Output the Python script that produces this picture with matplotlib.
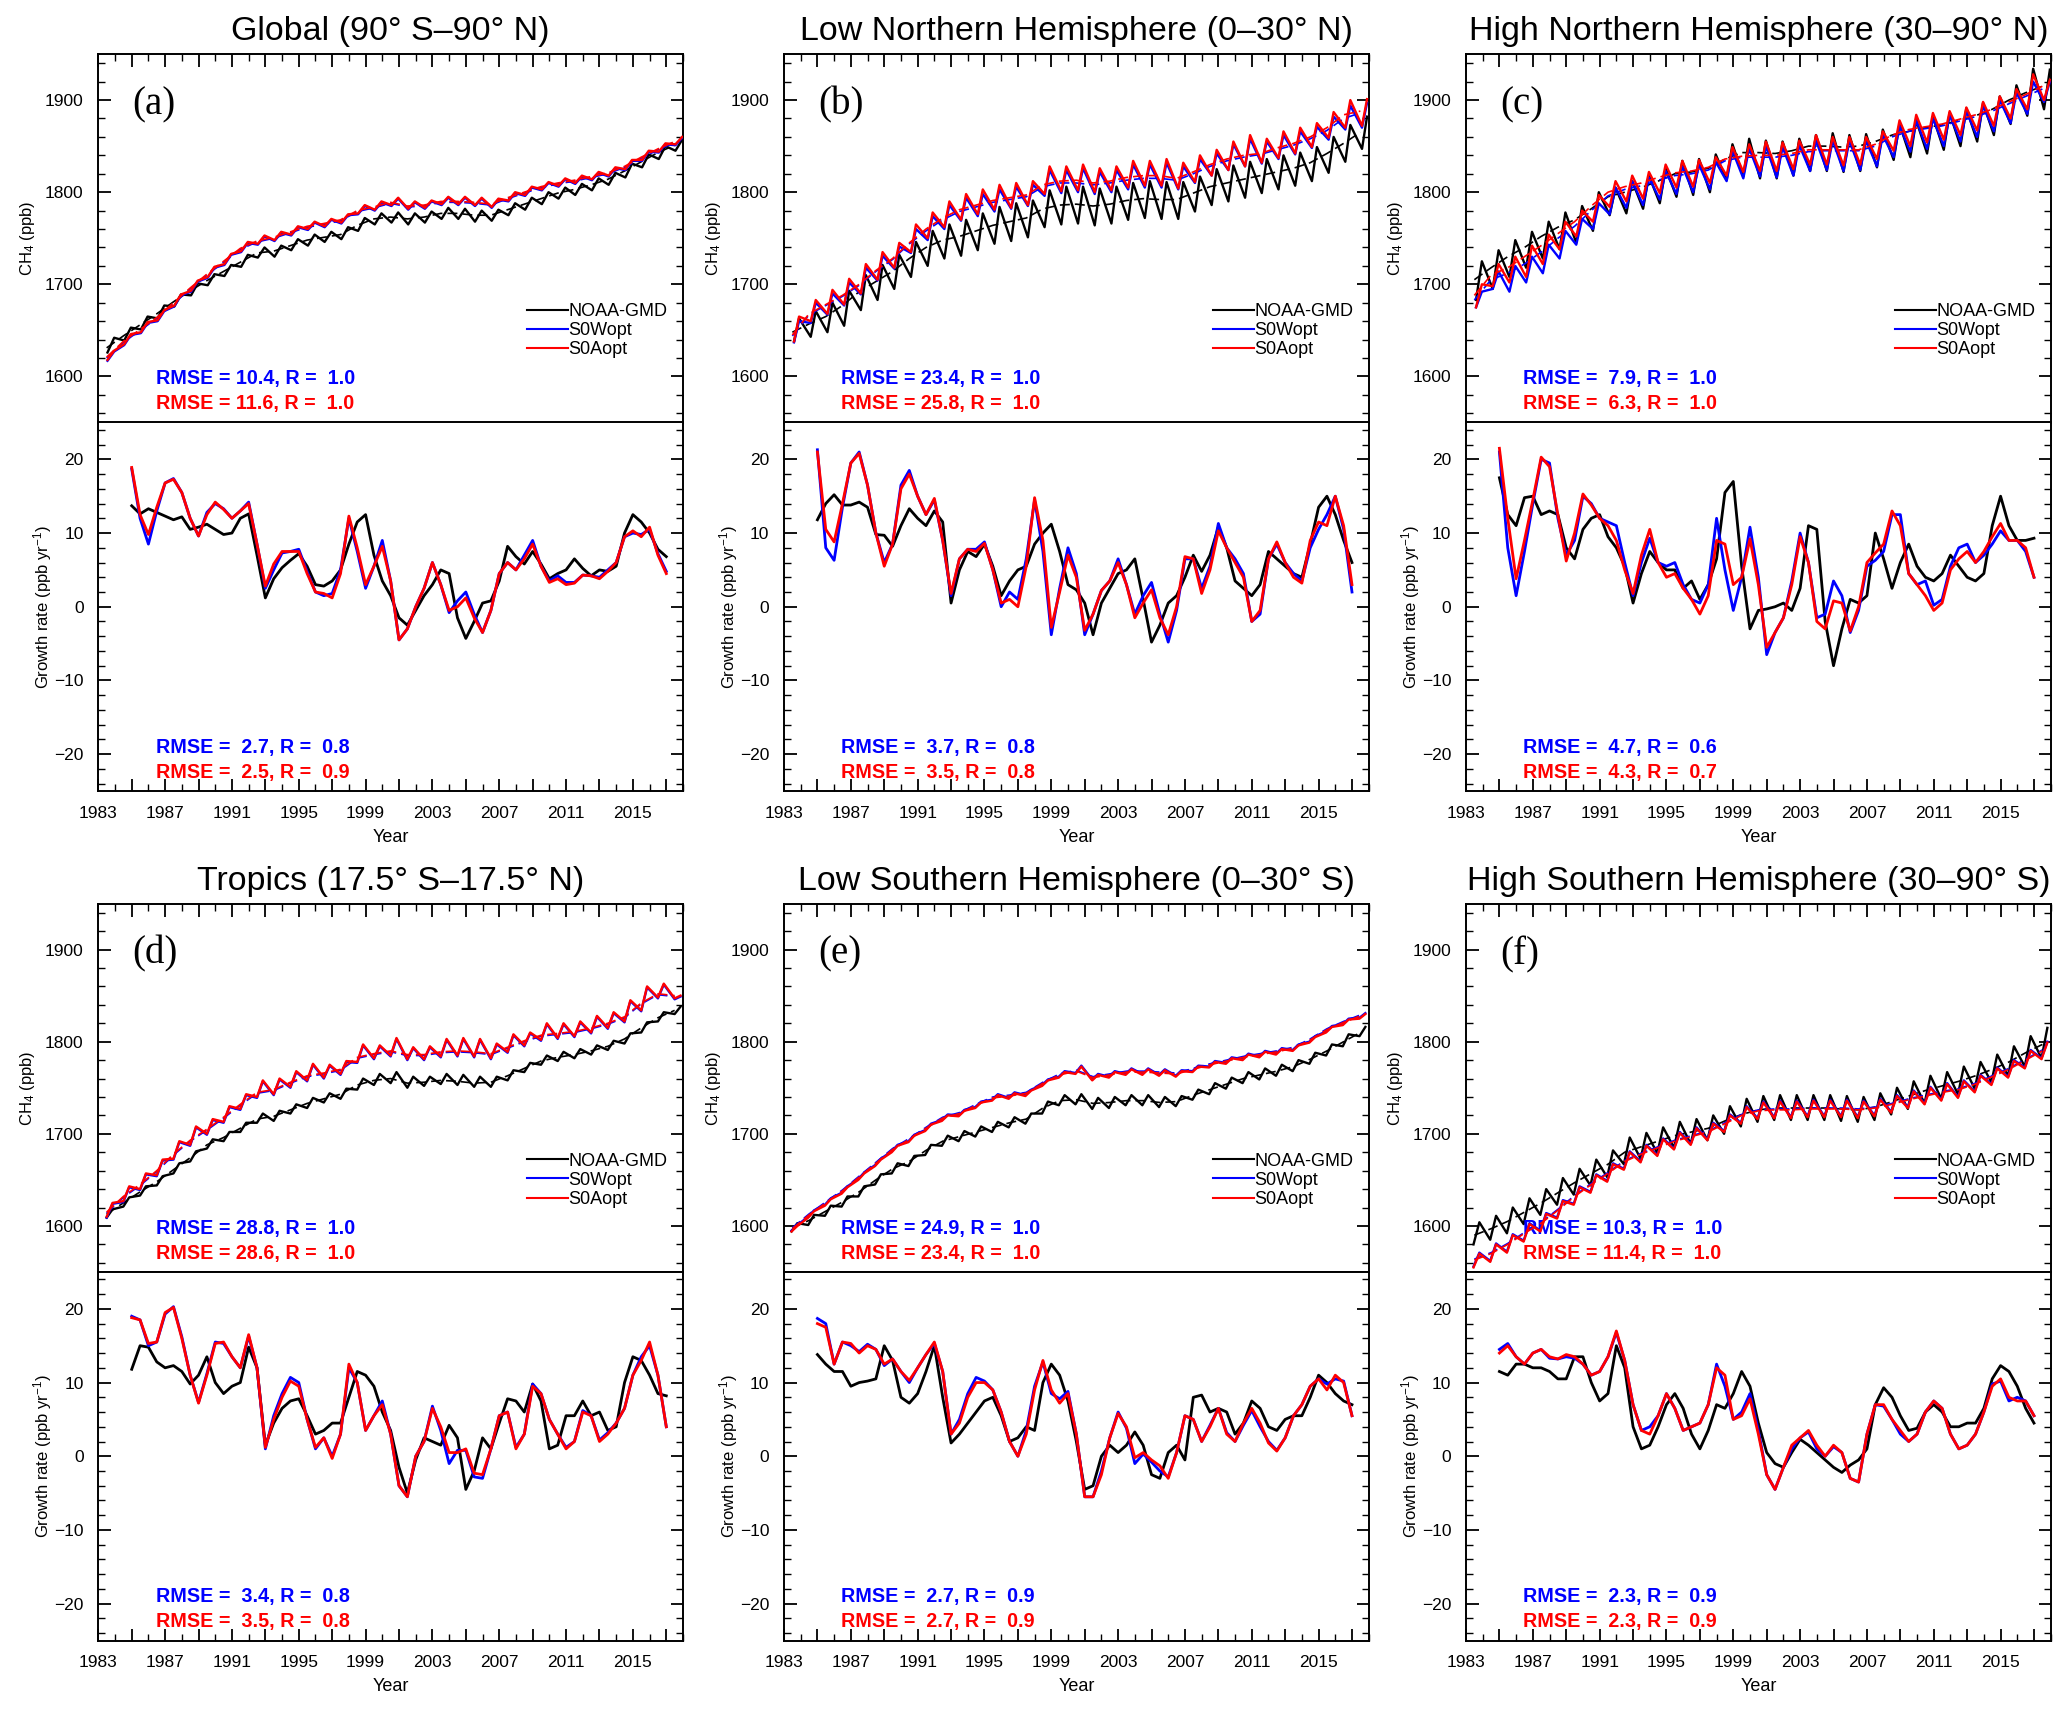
import numpy as np
import matplotlib
matplotlib.use("Agg")
import matplotlib.pyplot as plt

plt.rcParams['font.family'] = ['Liberation Sans', 'DejaVu Sans']
plt.rcParams['mathtext.fontset'] = 'custom'
plt.rcParams['mathtext.rm'] = 'Liberation Sans'
plt.rcParams['mathtext.it'] = 'Liberation Sans:italic'

# ---------------- data ----------------
YEARS = np.arange(1983, 2018)                 # one seasonal max / min per year
GR_YEARS = np.arange(1985.0, 2017.01, 0.5)    # growth-rate sampling times

TITLES = ["Global (90\u00b0 S\u201390\u00b0 N)", "Low Northern Hemisphere (0\u201330\u00b0 N)",
          "High Northern Hemisphere (30\u201390\u00b0 N)", "Tropics (17.5\u00b0 S\u201317.5\u00b0 N)",
          "Low Southern Hemisphere (0\u201330\u00b0 S)", "High Southern Hemisphere (30\u201390\u00b0 S)"]
PANEL_TAGS = ["(a)", "(b)", "(c)", "(d)", "(e)", "(f)"]
SERIES_NAMES = ["NOAA-GMD", "S0Wopt", "S0Aopt"]

# fraction of the year at which seasonal minimum / maximum are read
PHASE_LO = [0.55, 0.60, 0.60, 0.50, 0.45, 0.45]
PHASE_HI = [0.95, 0.90, 0.95, 0.85, 0.80, 0.80]

RMSE_CONC_W = [10.4, 23.4, 7.9, 28.8, 24.9, 10.3]
R_CONC_W = [1.0, 1.0, 1.0, 1.0, 1.0, 1.0]
RMSE_CONC_A = [11.6, 25.8, 6.3, 28.6, 23.4, 11.4]
R_CONC_A = [1.0, 1.0, 1.0, 1.0, 1.0, 1.0]
RMSE_GR_W = [2.7, 3.7, 4.7, 3.4, 2.7, 2.3]
R_GR_W = [0.8, 0.8, 0.6, 0.8, 0.9, 0.9]
RMSE_GR_A = [2.5, 3.5, 4.3, 3.5, 2.7, 2.3]
R_GR_A = [0.9, 0.8, 0.7, 0.8, 0.9, 0.9]

# ---- (a) Global ----
glob_obs_trend = [1631, 1644, 1656, 1668, 1681, 1693, 1704, 1714, 1724, 1734, 1736, 1742, 1748, 1751, 1754, 1764, 1771, 1773, 1771, 1773, 1777, 1777, 1775, 1775, 1781, 1787, 1793, 1799, 1803, 1808, 1814, 1823, 1833, 1843, 1851]
glob_w_trend = [1620, 1637, 1650, 1663, 1679, 1695, 1710, 1724, 1738, 1746, 1750, 1756, 1762, 1765, 1769, 1779, 1783, 1788, 1784, 1785, 1789, 1789, 1788, 1786, 1793, 1799, 1805, 1809, 1812, 1816, 1820, 1827, 1837, 1846, 1854]
glob_a_trend = [1621, 1638, 1651, 1664, 1680, 1696, 1711, 1725, 1739, 1747, 1751, 1757, 1763, 1766, 1770, 1780, 1784, 1789, 1785, 1786, 1790, 1790, 1789, 1787, 1794, 1800, 1806, 1810, 1813, 1817, 1821, 1828, 1838, 1847, 1855]
glob_obs_hi = [1642, 1653, 1665, 1677, 1689, 1701, 1711, 1721, 1732, 1740, 1742, 1749, 1754, 1757, 1762, 1772, 1777, 1778, 1777, 1779, 1783, 1782, 1780, 1781, 1788, 1794, 1800, 1805, 1809, 1815, 1821, 1831, 1841, 1850, 1857]
glob_obs_lo = [1626, 1639, 1651, 1663, 1676, 1688, 1699, 1709, 1719, 1729, 1730, 1737, 1742, 1746, 1749, 1758, 1765, 1767, 1765, 1767, 1771, 1771, 1768, 1769, 1775, 1781, 1787, 1793, 1797, 1802, 1808, 1816, 1827, 1836, 1845]
glob_w_hi = [1627, 1645, 1658, 1671, 1688, 1703, 1718, 1732, 1745, 1752, 1756, 1762, 1767, 1770, 1775, 1785, 1789, 1793, 1789, 1790, 1794, 1794, 1793, 1792, 1799, 1805, 1810, 1814, 1817, 1821, 1826, 1834, 1844, 1852, 1859]
glob_w_lo = [1617, 1634, 1647, 1660, 1676, 1692, 1707, 1721, 1735, 1743, 1747, 1753, 1759, 1762, 1766, 1776, 1780, 1785, 1781, 1782, 1786, 1786, 1785, 1783, 1790, 1796, 1802, 1806, 1809, 1813, 1817, 1824, 1834, 1843, 1851]
glob_a_hi = [1628, 1646, 1659, 1672, 1689, 1704, 1719, 1733, 1746, 1753, 1757, 1763, 1768, 1771, 1776, 1786, 1790, 1794, 1790, 1791, 1795, 1795, 1794, 1793, 1800, 1806, 1811, 1815, 1818, 1822, 1827, 1835, 1845, 1853, 1860]
glob_a_lo = [1618, 1635, 1648, 1661, 1677, 1693, 1708, 1722, 1736, 1744, 1748, 1754, 1760, 1763, 1767, 1777, 1781, 1786, 1782, 1783, 1787, 1787, 1786, 1784, 1791, 1797, 1803, 1807, 1810, 1814, 1818, 1825, 1835, 1844, 1852]
glob_obs_gr = [13.7, 12.6, 13.3, 12.8, 12.3, 11.8, 12.2, 10.5, 10.8, 11.2, 10.5, 9.8, 10.0, 12.0, 12.6, 7.0, 1.2, 3.8, 5.3, 6.3, 7.2, 5.5, 3.0, 2.8, 3.5, 5.0, 8.5, 11.5, 12.5, 7.0, 3.5, 1.5, -1.5, -2.5, -0.5, 1.5, 3.0, 5.0, 4.5, -1.5, -4.3, -2.0, 0.5, 0.8, 3.5, 8.2, 6.8, 5.8, 7.5, 5.8, 3.8, 4.5, 5.0, 6.5, 5.2, 4.2, 5.0, 4.8, 5.5, 10.0, 12.5, 11.5, 10.0, 7.8, 6.8]
glob_w_gr = [18.7, 12.0, 8.5, 13.0, 16.8, 17.4, 15.5, 12.0, 9.6, 12.8, 14.0, 13.3, 12.0, 13.0, 14.2, 8.5, 2.5, 5.0, 7.3, 7.5, 7.8, 4.8, 2.0, 1.5, 1.8, 5.0, 12.0, 7.5, 2.5, 5.5, 9.0, 3.5, -4.5, -3.0, 0.0, 2.5, 6.0, 3.0, -0.8, 0.8, 2.0, -1.0, -3.5, -0.5, 4.5, 6.0, 5.0, 7.0, 9.0, 5.5, 3.5, 4.2, 3.3, 3.3, 4.3, 4.2, 4.0, 5.0, 6.0, 9.5, 10.0, 9.8, 10.5, 7.2, 4.8]
glob_a_gr = [18.9, 12.5, 9.8, 13.5, 16.8, 17.3, 15.5, 12.0, 9.6, 12.5, 14.2, 13.2, 12.0, 13.0, 14.0, 8.5, 2.8, 5.8, 7.5, 7.5, 7.5, 4.5, 2.0, 1.8, 1.2, 4.5, 12.3, 8.0, 3.0, 5.5, 8.2, 3.5, -4.5, -3.0, 0.0, 2.5, 6.0, 3.0, -0.5, 0.0, 1.2, -1.5, -3.5, -0.5, 4.5, 6.0, 5.0, 6.5, 8.5, 5.5, 3.3, 3.8, 3.0, 3.2, 4.3, 4.2, 3.8, 4.8, 6.0, 9.5, 10.3, 9.5, 10.8, 7.0, 4.5]

# ---- (b) Low NH ----
lnh_obs_trend = [1648, 1657, 1665, 1677, 1692, 1703, 1714, 1728, 1740, 1748, 1752, 1758, 1764, 1768, 1772, 1782, 1786, 1787, 1785, 1787, 1791, 1793, 1792, 1792, 1799, 1806, 1810, 1814, 1818, 1822, 1826, 1832, 1842, 1853, 1865]
lnh_w_trend = [1644, 1667, 1677, 1687, 1699, 1714, 1727, 1744, 1758, 1770, 1779, 1784, 1789, 1792, 1795, 1806, 1810, 1810, 1808, 1810, 1813, 1815, 1815, 1813, 1820, 1828, 1834, 1838, 1841, 1846, 1851, 1858, 1867, 1880, 1886]
lnh_a_trend = [1645, 1668, 1678, 1688, 1700, 1715, 1728, 1745, 1760, 1772, 1781, 1786, 1791, 1794, 1797, 1808, 1812, 1813, 1810, 1812, 1816, 1818, 1818, 1815, 1822, 1830, 1836, 1840, 1842, 1848, 1853, 1860, 1870, 1884, 1888]
lnh_obs_hi = [1663, 1671, 1680, 1693, 1710, 1721, 1732, 1746, 1758, 1765, 1770, 1777, 1784, 1788, 1791, 1802, 1806, 1806, 1804, 1806, 1810, 1812, 1811, 1811, 1817, 1825, 1829, 1833, 1836, 1840, 1843, 1849, 1860, 1873, 1882]
lnh_obs_lo = [1638, 1643, 1648, 1655, 1672, 1683, 1695, 1708, 1720, 1728, 1731, 1737, 1744, 1747, 1751, 1762, 1765, 1766, 1764, 1766, 1770, 1772, 1771, 1771, 1779, 1786, 1790, 1794, 1799, 1803, 1807, 1812, 1821, 1833, 1847]
lnh_w_hi = [1660, 1680, 1690, 1702, 1718, 1731, 1741, 1760, 1774, 1786, 1794, 1798, 1803, 1806, 1808, 1824, 1824, 1826, 1822, 1824, 1830, 1830, 1832, 1828, 1836, 1842, 1852, 1858, 1855, 1862, 1866, 1871, 1882, 1894, 1897]
lnh_w_lo = [1637, 1658, 1667, 1677, 1689, 1704, 1717, 1734, 1748, 1760, 1769, 1774, 1779, 1782, 1785, 1796, 1799, 1800, 1798, 1800, 1803, 1805, 1805, 1803, 1810, 1818, 1824, 1828, 1831, 1836, 1841, 1848, 1857, 1868, 1870]
lnh_a_hi = [1665, 1683, 1694, 1706, 1722, 1735, 1745, 1765, 1778, 1790, 1798, 1803, 1808, 1810, 1812, 1828, 1828, 1830, 1826, 1828, 1834, 1834, 1836, 1832, 1840, 1846, 1855, 1862, 1858, 1866, 1870, 1875, 1887, 1900, 1901]
lnh_a_lo = [1638, 1660, 1668, 1678, 1690, 1705, 1718, 1735, 1750, 1762, 1770, 1776, 1781, 1783, 1786, 1798, 1801, 1802, 1800, 1802, 1805, 1807, 1807, 1804, 1811, 1818, 1824, 1828, 1832, 1837, 1842, 1849, 1859, 1870, 1872]
lnh_obs_gr = [11.8, 14.0, 15.2, 13.8, 13.8, 14.2, 13.5, 9.8, 9.7, 8.2, 11.0, 13.3, 12.0, 11.0, 13.0, 11.5, 0.5, 5.0, 7.5, 6.8, 8.5, 5.5, 1.5, 3.5, 5.0, 5.5, 8.5, 10.0, 11.2, 7.5, 3.0, 2.3, 0.5, -3.8, 0.5, 2.5, 4.5, 5.0, 6.5, 1.0, -4.8, -2.5, 0.5, 1.5, 4.0, 7.0, 4.8, 7.0, 10.8, 8.0, 3.5, 2.5, 1.5, 3.0, 7.5, 6.5, 5.5, 4.5, 4.0, 8.5, 13.5, 15.0, 12.5, 9.0, 6.0]
lnh_w_gr = [21.3, 8.0, 6.3, 13.5, 19.5, 21.0, 16.5, 10.0, 6.0, 8.5, 16.5, 18.5, 15.0, 12.5, 14.5, 9.0, 1.5, 6.5, 7.8, 7.8, 8.8, 5.0, 0.0, 2.0, 1.0, 6.5, 14.5, 7.5, -3.8, 2.5, 8.0, 4.5, -3.8, -1.0, 2.2, 3.5, 6.5, 3.0, -1.0, 1.5, 3.3, -1.0, -4.8, -0.5, 6.5, 6.5, 2.5, 5.5, 11.3, 8.0, 6.5, 4.5, -2.0, -1.0, 6.5, 8.5, 6.0, 4.5, 3.5, 8.0, 10.5, 12.5, 15.0, 10.5, 2.0]
lnh_a_gr = [21.0, 10.5, 8.8, 14.0, 19.5, 20.8, 16.5, 10.0, 5.5, 8.5, 16.0, 18.0, 15.0, 12.5, 14.7, 9.0, 1.8, 6.5, 7.8, 7.5, 8.6, 5.0, 0.5, 1.0, 0.0, 5.5, 14.8, 9.0, -2.8, 2.0, 7.0, 4.0, -3.2, -1.0, 2.2, 3.5, 6.0, 3.0, -1.5, 0.5, 2.3, -1.5, -3.8, 0.0, 6.8, 6.5, 1.8, 5.0, 10.3, 8.0, 6.0, 4.0, -2.0, -0.5, 6.5, 8.8, 6.0, 4.0, 3.2, 9.0, 11.5, 11.0, 15.0, 11.0, 3.0]

# ---- (c) High NH ----
hnh_obs_trend = [1705, 1718, 1730, 1740, 1752, 1762, 1770, 1782, 1795, 1800, 1805, 1812, 1820, 1822, 1826, 1836, 1843, 1843, 1842, 1845, 1850, 1850, 1849, 1850, 1855, 1862, 1866, 1870, 1873, 1878, 1883, 1890, 1900, 1908, 1915]
hnh_w_trend = [1683, 1705, 1712, 1722, 1735, 1750, 1763, 1780, 1796, 1803, 1807, 1813, 1818, 1820, 1824, 1834, 1838, 1838, 1838, 1840, 1844, 1845, 1845, 1845, 1850, 1860, 1866, 1869, 1872, 1877, 1882, 1888, 1896, 1904, 1912]
hnh_a_trend = [1688, 1710, 1718, 1730, 1742, 1755, 1768, 1785, 1800, 1806, 1810, 1816, 1821, 1823, 1827, 1836, 1839, 1840, 1840, 1842, 1846, 1846, 1846, 1846, 1852, 1862, 1868, 1871, 1874, 1879, 1884, 1890, 1898, 1906, 1915]
hnh_obs_hi = [1725, 1737, 1748, 1757, 1768, 1778, 1785, 1800, 1805, 1812, 1818, 1826, 1834, 1836, 1841, 1852, 1858, 1856, 1855, 1858, 1862, 1864, 1862, 1863, 1868, 1874, 1878, 1882, 1886, 1891, 1897, 1904, 1916, 1934, 1933]
hnh_obs_lo = [1683, 1695, 1708, 1718, 1728, 1738, 1745, 1758, 1775, 1777, 1782, 1788, 1795, 1797, 1800, 1813, 1817, 1815, 1815, 1818, 1823, 1823, 1822, 1823, 1827, 1835, 1838, 1842, 1846, 1850, 1855, 1862, 1874, 1883, 1890]
hnh_w_hi = [1692, 1714, 1720, 1730, 1743, 1758, 1771, 1788, 1805, 1812, 1816, 1823, 1828, 1830, 1833, 1845, 1848, 1850, 1849, 1851, 1856, 1856, 1856, 1856, 1862, 1872, 1878, 1880, 1884, 1888, 1894, 1900, 1908, 1920, 1920]
hnh_w_lo = [1675, 1695, 1692, 1702, 1712, 1728, 1743, 1760, 1776, 1783, 1786, 1792, 1798, 1800, 1803, 1812, 1815, 1817, 1816, 1818, 1823, 1824, 1823, 1824, 1828, 1838, 1844, 1847, 1850, 1855, 1860, 1866, 1875, 1885, 1898]
hnh_a_hi = [1700, 1722, 1730, 1742, 1754, 1768, 1780, 1797, 1812, 1818, 1822, 1830, 1834, 1835, 1838, 1849, 1852, 1855, 1854, 1856, 1862, 1860, 1860, 1860, 1866, 1878, 1884, 1886, 1888, 1892, 1898, 1904, 1912, 1928, 1922]
hnh_a_lo = [1675, 1698, 1702, 1708, 1722, 1738, 1752, 1768, 1784, 1790, 1793, 1799, 1805, 1806, 1810, 1818, 1822, 1823, 1823, 1825, 1830, 1830, 1829, 1830, 1836, 1845, 1850, 1854, 1857, 1862, 1867, 1872, 1880, 1890, 1900]
hnh_obs_gr = [17.5, 12.5, 11.0, 14.8, 15.0, 12.5, 13.0, 12.5, 8.0, 6.5, 10.5, 12.0, 12.5, 9.5, 8.0, 5.5, 0.5, 4.5, 7.5, 6.0, 5.0, 5.0, 2.5, 3.5, 1.0, 3.0, 6.5, 15.5, 17.0, 5.5, -3.0, -0.5, -0.3, 0.0, 0.5, -0.5, 2.5, 11.0, 10.5, -2.0, -8.0, -3.0, 1.0, 0.5, 1.5, 10.0, 6.5, 2.5, 6.0, 8.5, 5.5, 4.0, 3.5, 4.5, 7.0, 5.5, 4.0, 3.5, 4.5, 11.0, 15.0, 11.0, 9.0, 9.0, 9.3]
hnh_w_gr = [21.0, 8.0, 1.5, 7.5, 14.0, 20.0, 19.5, 12.0, 7.0, 9.0, 15.0, 14.0, 12.0, 11.5, 11.0, 6.0, 1.5, 6.0, 9.3, 6.0, 5.5, 6.0, 3.0, 1.0, 0.5, 3.0, 12.0, 5.0, -0.5, 4.0, 10.8, 4.0, -6.5, -3.5, -1.5, 3.5, 10.0, 6.0, -1.5, -1.0, 3.5, 1.5, -3.5, -0.5, 5.5, 6.3, 7.5, 12.5, 12.5, 4.5, 3.0, 3.5, 0.2, 1.0, 5.5, 8.0, 8.5, 6.0, 7.0, 8.5, 10.3, 9.0, 9.0, 7.5, 4.0]
hnh_a_gr = [21.5, 12.0, 3.8, 9.0, 14.5, 20.3, 19.0, 12.5, 6.2, 10.0, 15.3, 13.8, 12.0, 11.0, 9.0, 5.0, 1.8, 7.0, 10.5, 6.0, 4.0, 4.5, 2.5, 1.0, -1.0, 1.5, 9.0, 8.5, 3.0, 4.0, 9.2, 3.0, -5.5, -3.5, -1.5, 3.0, 9.5, 6.0, -2.0, -3.0, 0.8, 0.5, -3.3, 0.0, 6.0, 7.3, 8.5, 13.0, 11.0, 4.5, 3.0, 1.5, -0.5, 0.5, 5.0, 6.5, 7.5, 6.0, 7.5, 9.5, 11.3, 9.0, 9.0, 8.0, 4.0]

# ---- (d) Tropics ----
trop_obs_trend = [1613, 1625, 1637, 1648, 1661, 1674, 1688, 1696, 1706, 1716, 1719, 1726, 1733, 1738, 1743, 1753, 1758, 1760, 1755, 1756, 1758, 1757, 1755, 1756, 1763, 1771, 1779, 1783, 1786, 1790, 1795, 1803, 1815, 1826, 1834]
trop_w_trend = [1614, 1631, 1644, 1659, 1677, 1692, 1704, 1717, 1731, 1744, 1747, 1755, 1762, 1765, 1769, 1782, 1786, 1789, 1785, 1785, 1788, 1789, 1788, 1786, 1793, 1800, 1806, 1808, 1810, 1814, 1819, 1826, 1841, 1851, 1849]
trop_a_trend = [1615, 1632, 1645, 1660, 1678, 1693, 1705, 1718, 1732, 1745, 1748, 1756, 1763, 1766, 1770, 1783, 1787, 1790, 1786, 1786, 1789, 1790, 1789, 1787, 1794, 1801, 1807, 1809, 1811, 1815, 1820, 1827, 1842, 1852, 1850]
trop_obs_hi = [1618, 1631, 1643, 1654, 1668, 1681, 1694, 1702, 1712, 1722, 1725, 1732, 1739, 1744, 1749, 1760, 1765, 1767, 1762, 1762, 1765, 1764, 1762, 1762, 1769, 1777, 1785, 1789, 1792, 1796, 1801, 1809, 1821, 1832, 1838]
trop_obs_lo = [1609, 1621, 1633, 1644, 1657, 1670, 1684, 1692, 1702, 1712, 1714, 1722, 1728, 1734, 1738, 1748, 1753, 1755, 1750, 1752, 1754, 1753, 1751, 1751, 1758, 1767, 1775, 1779, 1782, 1786, 1791, 1798, 1810, 1822, 1830]
trop_w_hi = [1624, 1642, 1656, 1671, 1691, 1707, 1715, 1729, 1742, 1757, 1759, 1767, 1775, 1774, 1778, 1796, 1795, 1803, 1793, 1794, 1802, 1803, 1802, 1797, 1807, 1809, 1819, 1819, 1821, 1827, 1831, 1844, 1859, 1862, 1849]
trop_w_lo = [1609, 1626, 1639, 1654, 1672, 1687, 1699, 1712, 1726, 1739, 1742, 1750, 1757, 1760, 1764, 1777, 1781, 1784, 1780, 1780, 1783, 1784, 1783, 1781, 1788, 1795, 1801, 1803, 1805, 1809, 1814, 1821, 1833, 1847, 1846]
trop_a_hi = [1625, 1643, 1657, 1672, 1692, 1708, 1716, 1730, 1743, 1758, 1760, 1768, 1776, 1775, 1779, 1797, 1796, 1804, 1794, 1795, 1803, 1804, 1803, 1798, 1808, 1810, 1820, 1820, 1822, 1828, 1832, 1845, 1860, 1863, 1850]
trop_a_lo = [1610, 1627, 1640, 1655, 1673, 1688, 1700, 1713, 1727, 1740, 1743, 1751, 1758, 1761, 1765, 1778, 1782, 1785, 1781, 1781, 1784, 1785, 1784, 1782, 1789, 1796, 1802, 1804, 1806, 1810, 1815, 1822, 1834, 1848, 1847]
trop_obs_gr = [11.8, 15.0, 14.8, 12.8, 12.0, 12.3, 11.5, 9.8, 11.0, 13.5, 10.0, 8.5, 9.5, 10.0, 14.8, 12.0, 1.5, 4.5, 6.5, 7.5, 7.8, 5.5, 3.0, 3.5, 4.5, 4.5, 8.0, 11.5, 11.0, 9.5, 6.0, 3.5, -1.5, -5.0, -0.5, 2.5, 2.0, 1.5, 4.2, 2.5, -4.5, -2.0, 2.5, 1.0, 4.5, 7.8, 7.5, 6.0, 9.8, 7.5, 1.0, 1.5, 5.5, 5.5, 7.5, 5.5, 6.0, 3.5, 4.0, 10.0, 13.5, 13.0, 11.0, 8.5, 8.2]
trop_w_gr = [19.0, 18.5, 15.0, 15.5, 19.3, 20.3, 16.2, 11.0, 7.3, 11.2, 15.5, 15.3, 13.5, 12.0, 16.3, 12.0, 1.0, 5.5, 8.5, 10.7, 10.0, 5.0, 1.0, 2.5, 0.0, 3.0, 12.0, 10.0, 3.5, 5.5, 7.5, 3.0, -4.0, -5.5, 0.0, 2.0, 6.8, 3.5, -1.0, 0.8, 0.8, -2.8, -3.0, 1.0, 5.5, 6.0, 1.2, 3.0, 9.8, 8.5, 5.0, 3.0, 1.2, 2.0, 6.2, 5.5, 2.2, 3.2, 4.5, 6.5, 11.0, 13.5, 15.0, 11.0, 4.0]
trop_a_gr = [18.8, 18.5, 15.3, 15.5, 19.5, 20.2, 16.0, 11.0, 7.2, 11.0, 15.3, 15.5, 13.5, 12.0, 16.5, 12.0, 1.2, 5.0, 8.0, 10.2, 9.5, 5.0, 1.2, 2.5, -0.3, 3.0, 12.5, 10.0, 3.5, 5.5, 7.0, 3.0, -4.0, -5.5, 0.0, 2.0, 6.5, 4.0, 0.5, 0.5, 1.0, -2.3, -2.5, 1.0, 5.5, 6.0, 1.0, 3.0, 9.5, 8.5, 5.0, 3.0, 1.0, 2.0, 6.0, 5.5, 2.0, 3.0, 4.5, 6.5, 11.0, 13.0, 15.5, 11.0, 4.0]

# ---- (e) Low SH ----
lsh_obs_trend = [1598, 1606, 1616, 1626, 1637, 1650, 1662, 1670, 1682, 1692, 1697, 1702, 1707, 1712, 1716, 1728, 1736, 1737, 1733, 1734, 1736, 1736, 1734, 1735, 1742, 1748, 1754, 1760, 1764, 1768, 1773, 1781, 1790, 1800, 1810]
lsh_w_trend = [1598, 1613, 1626, 1639, 1654, 1669, 1684, 1695, 1707, 1718, 1723, 1732, 1740, 1742, 1745, 1756, 1765, 1769, 1762, 1765, 1768, 1768, 1767, 1766, 1771, 1776, 1780, 1784, 1787, 1790, 1794, 1803, 1814, 1822, 1829]
lsh_a_trend = [1597, 1612, 1625, 1638, 1653, 1668, 1683, 1694, 1706, 1717, 1722, 1731, 1739, 1741, 1744, 1755, 1764, 1768, 1761, 1764, 1767, 1767, 1766, 1765, 1770, 1775, 1779, 1783, 1786, 1789, 1793, 1802, 1813, 1821, 1828]
lsh_obs_hi = [1603, 1612, 1622, 1632, 1643, 1656, 1668, 1676, 1688, 1698, 1703, 1708, 1713, 1718, 1722, 1735, 1742, 1743, 1739, 1740, 1742, 1742, 1740, 1741, 1748, 1755, 1761, 1767, 1771, 1775, 1780, 1788, 1797, 1808, 1816]
lsh_obs_lo = [1594, 1601, 1611, 1621, 1632, 1645, 1657, 1665, 1677, 1687, 1692, 1697, 1702, 1707, 1711, 1722, 1731, 1732, 1727, 1728, 1731, 1731, 1729, 1730, 1737, 1743, 1749, 1755, 1759, 1763, 1768, 1776, 1785, 1795, 1806]
lsh_w_hi = [1601, 1617, 1630, 1643, 1658, 1673, 1688, 1699, 1711, 1721, 1726, 1735, 1743, 1745, 1748, 1759, 1768, 1774, 1765, 1768, 1771, 1771, 1770, 1769, 1774, 1779, 1783, 1787, 1790, 1793, 1797, 1806, 1817, 1825, 1831]
lsh_w_lo = [1595, 1610, 1623, 1636, 1651, 1666, 1681, 1692, 1704, 1715, 1720, 1729, 1737, 1739, 1742, 1753, 1762, 1766, 1759, 1762, 1765, 1765, 1764, 1763, 1768, 1773, 1777, 1781, 1784, 1787, 1791, 1800, 1811, 1819, 1826]
lsh_a_hi = [1600, 1616, 1629, 1642, 1657, 1672, 1687, 1698, 1710, 1720, 1725, 1734, 1742, 1744, 1747, 1758, 1767, 1773, 1764, 1767, 1770, 1770, 1769, 1768, 1773, 1778, 1782, 1786, 1789, 1792, 1796, 1805, 1816, 1824, 1830]
lsh_a_lo = [1594, 1609, 1622, 1635, 1650, 1665, 1680, 1691, 1703, 1714, 1719, 1728, 1736, 1738, 1741, 1752, 1761, 1765, 1758, 1761, 1764, 1764, 1763, 1762, 1767, 1772, 1776, 1780, 1783, 1786, 1790, 1799, 1810, 1818, 1825]
lsh_obs_gr = [13.8, 12.5, 11.5, 11.5, 9.5, 10.0, 10.2, 10.5, 15.0, 13.0, 8.0, 7.2, 8.5, 11.5, 15.0, 8.0, 1.8, 3.0, 4.5, 6.0, 7.5, 8.0, 5.5, 2.0, 2.5, 4.0, 3.5, 10.0, 12.5, 11.0, 7.5, 2.0, -4.5, -4.0, 0.0, 1.5, 0.5, 1.5, 3.3, 1.5, -2.5, -3.0, 0.5, 1.5, -0.5, 8.0, 8.3, 6.0, 6.5, 6.0, 3.0, 4.5, 7.5, 6.5, 4.0, 3.5, 5.0, 5.5, 5.5, 8.0, 11.0, 10.0, 8.5, 7.5, 7.0]
lsh_w_gr = [18.7, 18.0, 12.5, 15.5, 15.0, 14.2, 15.2, 14.5, 12.3, 13.2, 11.5, 10.0, 12.0, 13.8, 15.3, 11.5, 3.0, 5.0, 8.5, 10.7, 10.2, 9.0, 6.0, 2.0, 0.0, 3.5, 9.5, 12.8, 8.5, 7.8, 8.8, 3.0, -5.5, -5.5, -2.0, 2.5, 6.0, 3.8, -1.0, 0.3, -0.8, -2.0, -2.8, 0.5, 5.5, 5.0, 2.0, 4.2, 6.5, 3.2, 2.0, 4.2, 6.2, 4.0, 2.0, 0.8, 2.5, 5.5, 7.0, 9.5, 10.5, 9.8, 10.5, 10.2, 5.5]
lsh_a_gr = [18.0, 17.5, 12.5, 15.5, 15.3, 14.0, 15.0, 14.5, 12.5, 13.2, 11.5, 10.3, 12.0, 13.8, 15.5, 11.5, 3.0, 4.5, 8.0, 10.0, 10.0, 9.0, 6.0, 2.0, 0.0, 3.0, 9.0, 13.0, 9.0, 7.2, 8.5, 3.0, -5.5, -5.5, -2.5, 2.5, 5.8, 4.0, -0.2, 0.5, -0.5, -1.3, -3.0, 0.5, 5.5, 5.0, 2.0, 4.0, 6.5, 3.0, 2.0, 4.5, 6.5, 4.5, 1.8, 0.7, 2.5, 5.5, 7.0, 9.5, 10.5, 9.0, 11.0, 10.0, 5.5]

# ---- (f) High SH ----
hsh_obs_trend = [1590, 1597, 1605, 1615, 1625, 1636, 1647, 1657, 1667, 1680, 1686, 1692, 1698, 1702, 1706, 1714, 1721, 1726, 1728, 1728, 1728, 1728, 1727, 1726, 1729, 1735, 1741, 1747, 1752, 1757, 1763, 1770, 1778, 1788, 1797]
hsh_w_trend = [1564, 1571, 1581, 1593, 1604, 1618, 1633, 1646, 1658, 1671, 1679, 1686, 1693, 1698, 1703, 1712, 1721, 1726, 1727, 1727, 1728, 1728, 1728, 1727, 1729, 1733, 1738, 1742, 1746, 1749, 1755, 1763, 1771, 1781, 1791]
hsh_a_trend = [1563, 1570, 1580, 1592, 1603, 1617, 1632, 1645, 1657, 1670, 1678, 1685, 1692, 1697, 1702, 1711, 1720, 1725, 1726, 1726, 1727, 1727, 1727, 1726, 1728, 1732, 1737, 1741, 1745, 1748, 1754, 1762, 1770, 1780, 1790]
hsh_obs_hi = [1604, 1611, 1620, 1630, 1640, 1652, 1662, 1672, 1682, 1696, 1701, 1707, 1713, 1716, 1720, 1730, 1738, 1741, 1742, 1742, 1742, 1742, 1741, 1740, 1744, 1750, 1757, 1763, 1767, 1773, 1778, 1786, 1795, 1806, 1815]
hsh_obs_lo = [1580, 1585, 1592, 1602, 1612, 1623, 1634, 1644, 1653, 1667, 1673, 1679, 1685, 1689, 1693, 1700, 1708, 1713, 1715, 1715, 1715, 1715, 1714, 1713, 1715, 1721, 1727, 1733, 1738, 1743, 1749, 1756, 1763, 1773, 1782]
hsh_w_hi = [1571, 1581, 1591, 1603, 1614, 1628, 1643, 1656, 1668, 1681, 1688, 1695, 1702, 1707, 1712, 1721, 1730, 1735, 1736, 1736, 1737, 1737, 1737, 1736, 1738, 1742, 1747, 1751, 1755, 1758, 1764, 1772, 1780, 1791, 1800]
hsh_w_lo = [1556, 1562, 1572, 1584, 1595, 1609, 1624, 1637, 1649, 1662, 1670, 1677, 1684, 1689, 1694, 1703, 1712, 1717, 1718, 1718, 1719, 1719, 1719, 1718, 1720, 1724, 1729, 1733, 1737, 1740, 1746, 1754, 1762, 1772, 1782]
hsh_a_hi = [1570, 1580, 1590, 1602, 1613, 1627, 1642, 1655, 1667, 1680, 1687, 1694, 1701, 1706, 1711, 1720, 1729, 1734, 1735, 1735, 1736, 1736, 1736, 1735, 1737, 1741, 1746, 1750, 1754, 1757, 1763, 1771, 1779, 1790, 1799]
hsh_a_lo = [1555, 1561, 1571, 1583, 1594, 1608, 1623, 1636, 1648, 1661, 1669, 1676, 1683, 1688, 1693, 1702, 1711, 1716, 1717, 1717, 1718, 1718, 1718, 1717, 1719, 1723, 1728, 1732, 1736, 1739, 1745, 1753, 1761, 1771, 1781]
hsh_obs_gr = [11.5, 11.0, 12.5, 12.5, 12.0, 12.0, 11.5, 10.5, 10.5, 13.5, 13.5, 10.0, 7.5, 8.5, 15.0, 12.0, 4.0, 1.0, 1.5, 4.0, 7.0, 8.5, 6.5, 3.0, 1.0, 3.5, 7.0, 6.5, 8.5, 11.5, 9.5, 4.5, 0.5, -1.0, -1.5, 0.5, 2.3, 1.5, 0.5, -0.5, -1.5, -2.2, -1.2, -0.5, 1.0, 7.0, 9.3, 8.0, 5.5, 3.5, 3.8, 6.0, 7.0, 6.0, 4.0, 4.0, 4.5, 4.5, 6.5, 10.5, 12.3, 11.5, 9.5, 6.5, 4.5]
hsh_w_gr = [14.5, 15.3, 13.5, 12.5, 14.0, 14.5, 13.3, 13.2, 13.5, 13.3, 12.5, 11.0, 11.5, 13.5, 16.8, 13.0, 7.0, 3.5, 4.0, 5.5, 8.5, 6.5, 3.5, 4.0, 4.5, 7.0, 12.5, 9.5, 5.0, 6.0, 8.5, 3.5, -2.5, -4.5, -1.5, 1.0, 2.5, 3.3, 1.0, 0.0, 1.3, 0.5, -3.0, -3.5, 3.0, 7.0, 6.8, 5.0, 3.0, 2.0, 3.0, 6.0, 7.5, 6.5, 3.0, 1.0, 1.5, 3.0, 6.0, 9.8, 10.2, 7.5, 8.0, 7.5, 5.5]
hsh_a_gr = [14.0, 15.0, 13.5, 12.5, 14.0, 14.5, 13.5, 13.2, 13.8, 13.5, 12.5, 11.0, 11.5, 13.5, 17.0, 13.0, 7.0, 3.5, 3.0, 5.5, 8.5, 6.5, 3.5, 4.0, 4.5, 7.0, 12.0, 11.0, 5.0, 5.5, 7.8, 3.0, -2.5, -4.5, -1.5, 1.5, 2.5, 3.5, 1.5, 0.0, 1.5, 0.5, -3.0, -3.5, 3.0, 7.0, 7.0, 5.0, 3.5, 2.0, 3.0, 6.0, 7.5, 6.5, 3.0, 1.0, 1.5, 3.0, 6.0, 9.5, 10.5, 8.0, 7.5, 7.5, 5.5]

REGIONS = [
    dict(trend=[glob_obs_trend, glob_w_trend, glob_a_trend],
         hi=[glob_obs_hi, glob_w_hi, glob_a_hi], lo=[glob_obs_lo, glob_w_lo, glob_a_lo],
         gr=[glob_obs_gr, glob_w_gr, glob_a_gr]),
    dict(trend=[lnh_obs_trend, lnh_w_trend, lnh_a_trend],
         hi=[lnh_obs_hi, lnh_w_hi, lnh_a_hi], lo=[lnh_obs_lo, lnh_w_lo, lnh_a_lo],
         gr=[lnh_obs_gr, lnh_w_gr, lnh_a_gr]),
    dict(trend=[hnh_obs_trend, hnh_w_trend, hnh_a_trend],
         hi=[hnh_obs_hi, hnh_w_hi, hnh_a_hi], lo=[hnh_obs_lo, hnh_w_lo, hnh_a_lo],
         gr=[hnh_obs_gr, hnh_w_gr, hnh_a_gr]),
    dict(trend=[trop_obs_trend, trop_w_trend, trop_a_trend],
         hi=[trop_obs_hi, trop_w_hi, trop_a_hi], lo=[trop_obs_lo, trop_w_lo, trop_a_lo],
         gr=[trop_obs_gr, trop_w_gr, trop_a_gr]),
    dict(trend=[lsh_obs_trend, lsh_w_trend, lsh_a_trend],
         hi=[lsh_obs_hi, lsh_w_hi, lsh_a_hi], lo=[lsh_obs_lo, lsh_w_lo, lsh_a_lo],
         gr=[lsh_obs_gr, lsh_w_gr, lsh_a_gr]),
    dict(trend=[hsh_obs_trend, hsh_w_trend, hsh_a_trend],
         hi=[hsh_obs_hi, hsh_w_hi, hsh_a_hi], lo=[hsh_obs_lo, hsh_w_lo, hsh_a_lo],
         gr=[hsh_obs_gr, hsh_w_gr, hsh_a_gr]),
]

# ---------------- style / layout ----------------
COLORS = ['black', '#0000ff', '#ff0000']
W, H = 2067, 1713
COL_LEFT = [98.3, 784.0, 1466.0]
AX_W = 584.7
ROW_TOP = [54.0, 903.5]
SUB_H = 368.5


def seasonal(lo, hi, plo, phi):
    t = np.concatenate([YEARS + plo, YEARS + phi])
    v = np.concatenate([np.asarray(lo, float), np.asarray(hi, float)])
    o = np.argsort(t)
    return t[o], v[o]


def style_axes(ax, top_panel):
    for s in ax.spines.values():
        s.set_linewidth(1.4)
    ax.set_xlim(1983, 2018)
    ax.set_xticks(np.arange(1983, 2018, 2))
    ax.set_xticks(np.arange(1983, 2019, 1), minor=True)
    ax.set_xticklabels([str(y) if (y - 1983) % 4 == 0 else '' for y in range(1983, 2018, 2)])
    ax.tick_params(which='both', direction='in', labelsize=12.5, pad=10.5)
    ax.tick_params(which='major', length=9, width=1.3)
    ax.tick_params(which='minor', length=5, width=1.0)
    ax.tick_params(axis='y', which='both', left=True, right=True)
    if top_panel:
        ax.tick_params(axis='x', which='both', top=True, bottom=False,
                       labelbottom=False, labeltop=False)
    else:
        ax.tick_params(axis='x', which='both', top=False, bottom=True)


fig = plt.figure(figsize=(W / 100, H / 100), dpi=100)

for i, reg in enumerate(REGIONS):
    r, c = divmod(i, 3)
    left = COL_LEFT[c] / W
    top = ROW_TOP[r]
    ax1 = fig.add_axes([left, 1 - (top + SUB_H) / H, AX_W / W, SUB_H / H])
    ax2 = fig.add_axes([left, 1 - (top + 2 * SUB_H) / H, AX_W / W, SUB_H / H])

    # --- concentration panel ---
    handles = []
    for k in range(3):
        tt, vv = seasonal(reg['lo'][k], reg['hi'][k], PHASE_LO[i], PHASE_HI[i])
        ax1.plot(YEARS + 0.5, reg['trend'][k], color=COLORS[k], lw=1.2,
                 ls=(0, (6, 3)), zorder=2 + k)
        ln, = ax1.plot(tt, vv, color=COLORS[k], lw=1.7, zorder=2 + k)
        handles.append(ln)
    ax1.set_ylim(1550, 1950)
    ax1.set_yticks([1600, 1700, 1800, 1900])
    ax1.set_yticks(np.arange(1560, 1950, 20), minor=True)
    style_axes(ax1, True)
    ax1.set_ylabel('CH$_4$ (ppb)', fontsize=12)
    ax1.yaxis.set_label_coords(-0.104, 0.5)
    ax1.set_title(TITLES[i], fontsize=24.5, pad=10)
    ax1.text(0.058, 0.862, PANEL_TAGS[i], transform=ax1.transAxes, fontsize=28,
             family=['Liberation Serif', 'DejaVu Serif'], va='center', ha='left')
    leg = ax1.legend(handles, SERIES_NAMES, loc='center left',
                     bbox_to_anchor=(0.733, 0.249), frameon=False, borderpad=0,
                     borderaxespad=0, handlelength=2.3, handletextpad=0,
                     labelspacing=0.12, fontsize=13)
    for lh in leg.get_lines():
        lh.set_linewidth(1.5)
    ax1.text(0.098, 0.119, f"RMSE = {RMSE_CONC_W[i]:4.1f}, R = {R_CONC_W[i]:4.1f}",
             transform=ax1.transAxes, color=COLORS[1], fontsize=14.2,
             fontweight='bold', va='center')
    ax1.text(0.098, 0.051, f"RMSE = {RMSE_CONC_A[i]:4.1f}, R = {R_CONC_A[i]:4.1f}",
             transform=ax1.transAxes, color=COLORS[2], fontsize=14.2,
             fontweight='bold', va='center')

    # --- growth-rate panel ---
    for k in range(3):
        g = reg['gr'][k]
        n = min(len(g), len(GR_YEARS))
        ax2.plot(GR_YEARS[:n], g[:n], color=COLORS[k], lw=2.0, zorder=2 + k)
    ax2.set_ylim(-25, 25)
    ax2.set_yticks([-20, -10, 0, 10, 20])
    ax2.set_yticks(np.arange(-24, 25, 2), minor=True)
    style_axes(ax2, False)
    ax2.set_ylabel('Growth rate (ppb yr$^{-1}$)', fontsize=12)
    ax2.yaxis.set_label_coords(-0.076, 0.5)
    ax2.set_xlabel('Year', fontsize=13, labelpad=6)
    ax2.text(0.098, 0.119, f"RMSE = {RMSE_GR_W[i]:4.1f}, R = {R_GR_W[i]:4.1f}",
             transform=ax2.transAxes, color=COLORS[1], fontsize=14.2,
             fontweight='bold', va='center')
    ax2.text(0.098, 0.051, f"RMSE = {RMSE_GR_A[i]:4.1f}, R = {R_GR_A[i]:4.1f}",
             transform=ax2.transAxes, color=COLORS[2], fontsize=14.2,
             fontweight='bold', va='center')

fig.savefig('out.png', dpi=100)
